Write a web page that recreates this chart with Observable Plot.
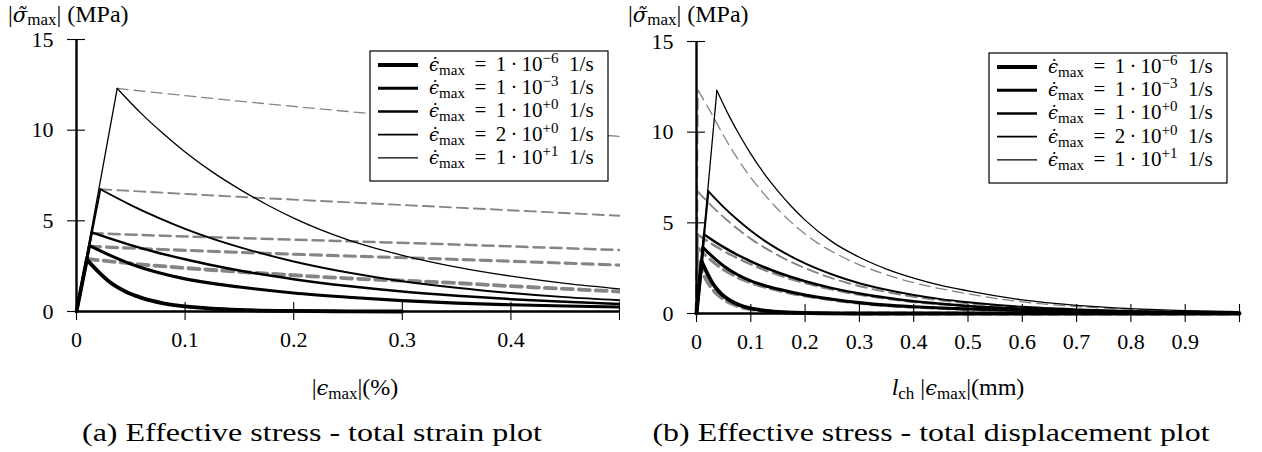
<!DOCTYPE html>
<html>
<head>
<meta charset="utf-8">
<script src="https://cdn.jsdelivr.net/npm/d3@7"></script>
<script src="https://cdn.jsdelivr.net/npm/@observablehq/plot@0.6"></script>
<style>
  body { margin: 0; background: #fff; }
  #chart { display: flex; width: 1262px; height: 452px; }
  svg { overflow: visible; }
</style>
</head>
<body>
<div id="chart"></div>
<script>
// ---------------- data ----------------
const seriesKeys = ["1e-6", "1e-3", "1e+0", "2e+0", "1e+1"];
const legendMantissa = ["1", "1", "1", "2", "1"];
const legendExponent = ["\u22126", "\u22123", "+0", "+0", "+1"];
const yTicks = [0, 5, 10, 15];
const xTicksL = [0, 0.1, 0.2, 0.3, 0.4, 0.5];
const xTicksR = [0, 0.1, 0.2, 0.3, 0.4, 0.5, 0.6, 0.7, 0.8, 0.9, 1.0];

// solid curves (same in both panels): [x, |sigma|]
const solid1e6 = [[0,0],[0.0095,2.86],[0.02,2.2],[0.03,1.65],[0.045,1.1],[0.06,0.75],[0.08,0.45],[0.1,0.28],[0.125,0.16],[0.15,0.09],[0.2,0.03],[0.25,0.01],[0.3,0],[1.0,0]];
const solid1e3 = [[0,0],[0.012,3.63],[0.03,3.12],[0.05,2.62],[0.075,2.15],[0.1,1.8],[0.125,1.55],[0.15,1.35],[0.2,1.02],[0.25,0.79],[0.3,0.6],[0.35,0.46],[0.4,0.37],[0.45,0.3],[0.5,0.25],[0.6,0.17],[0.7,0.11],[0.8,0.07],[0.9,0.05],[1.0,0.03]];
const solid1e0 = [[0,0],[0.014,4.36],[0.05,3.66],[0.075,3.24],[0.1,2.88],[0.125,2.55],[0.15,2.26],[0.2,1.78],[0.25,1.4],[0.3,1.1],[0.35,0.87],[0.4,0.68],[0.45,0.54],[0.5,0.42],[0.6,0.26],[0.7,0.16],[0.8,0.1],[0.9,0.06],[1.0,0.04]];
const solid2e0 = [[0,0],[0.022,6.74],[0.05,5.87],[0.075,5.18],[0.1,4.56],[0.125,4.02],[0.15,3.55],[0.2,2.76],[0.25,2.15],[0.3,1.67],[0.35,1.31],[0.4,1.02],[0.45,0.79],[0.5,0.62],[0.6,0.37],[0.7,0.23],[0.8,0.14],[0.9,0.08],[1.0,0.05]];
const solid1e1 = [[0,0],[0.0375,12.3],[0.06,10.9],[0.08,9.8],[0.1,8.8],[0.125,7.7],[0.15,6.75],[0.175,5.9],[0.2,5.15],[0.25,3.95],[0.3,3.1],[0.35,2.45],[0.4,1.95],[0.45,1.55],[0.5,1.25],[0.6,0.75],[0.7,0.45],[0.8,0.27],[0.9,0.16],[1.0,0.1]];

// dashed curves, left panel (strain)
const dashL1e6 = [[0.0095,2.9],[0.05,2.65],[0.1,2.4],[0.16,2.15],[0.2,2.0],[0.25,1.83],[0.3,1.7],[0.336,1.61],[0.4,1.4],[0.45,1.25],[0.5,1.1]];
const dashL1e3 = [[0.012,3.59],[0.08,3.42],[0.151,3.26],[0.24,3.08],[0.336,2.9],[0.42,2.73],[0.5,2.56]];
const dashL1e0 = [[0.014,4.32],[0.08,4.18],[0.151,4.05],[0.24,3.89],[0.336,3.72],[0.42,3.55],[0.5,3.39]];
const dashL2e0 = [[0.022,6.74],[0.08,6.55],[0.151,6.32],[0.24,6.05],[0.336,5.77],[0.42,5.52],[0.5,5.28]];
const dashL1e1 = [[0.0375,12.3],[0.15,11.6],[0.264,10.95],[0.38,10.3],[0.5,9.65]];

// dashed curves, right panel (displacement)
const dashR1e6 = [[0,0],[0.002,2.9],[0.012,2.2],[0.022,1.65],[0.037,1.1],[0.052,0.75],[0.072,0.45],[0.092,0.28],[0.117,0.16],[0.142,0.09],[0.192,0.03],[0.242,0.01],[0.3,0],[1.0,0]];
const dashR1e3 = [[0,0],[0.002,3.63],[0.02,3.12],[0.04,2.62],[0.065,2.15],[0.09,1.8],[0.115,1.55],[0.14,1.35],[0.19,1.02],[0.24,0.79],[0.29,0.6],[0.34,0.46],[0.39,0.37],[0.44,0.3],[0.49,0.25],[0.59,0.17],[0.69,0.11],[0.79,0.07],[0.89,0.05],[0.99,0.03],[1.0,0.03]];
const dashR1e0 = [[0,0],[0.002,4.36],[0.038,3.66],[0.063,3.24],[0.088,2.88],[0.113,2.55],[0.138,2.26],[0.188,1.78],[0.238,1.4],[0.288,1.1],[0.338,0.87],[0.388,0.68],[0.438,0.54],[0.488,0.42],[0.588,0.26],[0.688,0.16],[0.788,0.1],[0.888,0.06],[0.988,0.04],[1.0,0.04]];
const dashR2e0 = [[0,0],[0.002,6.74],[0.03,5.87],[0.055,5.18],[0.08,4.56],[0.105,4.02],[0.13,3.55],[0.18,2.76],[0.23,2.15],[0.28,1.67],[0.33,1.31],[0.38,1.02],[0.43,0.79],[0.48,0.62],[0.58,0.37],[0.68,0.23],[0.78,0.14],[0.88,0.08],[0.98,0.05],[1.0,0.05]];
const dashR1e1 = [[0,0],[0.003,12.3],[0.03,10.9],[0.05,9.8],[0.07,8.8],[0.095,7.7],[0.12,6.75],[0.145,5.9],[0.17,5.15],[0.22,3.95],[0.27,3.1],[0.32,2.45],[0.37,1.95],[0.42,1.55],[0.47,1.25],[0.57,0.75],[0.67,0.45],[0.77,0.27],[0.87,0.16],[0.97,0.1],[1.0,0.09]];

const solidAll = [solid1e6, solid1e3, solid1e0, solid2e0, solid1e1];
const dashLAll = [dashL1e6, dashL1e3, dashL1e0, dashL2e0, dashL1e1];
const dashRAll = [dashR1e6, dashR1e3, dashR1e0, dashR2e0, dashR1e1];

// ---------------- style ----------------
const widths = [3.8, 3.1, 2.5, 1.9, 1.3];
const gray = "#858585";
const dash = "11,6";
const FONT = "'Liberation Serif', 'DejaVu Serif', serif";

const toRows = arr => arr.map(([x, y]) => ({x, y}));

function panelMarks(xmax, xTicks, dashed, dashedHasRise) {
  const marks = [];
  dashed.forEach((arr, i) => {
    const opts = {x: "x", y: "y", stroke: gray, strokeWidth: widths[i], strokeDasharray: dash};
    if (dashedHasRise) {
      marks.push(Plot.line(toRows(arr.slice(0, 2)), opts));
      marks.push(Plot.line(toRows(arr.slice(1)), {...opts, curve: "monotone-x"}));
    } else {
      marks.push(Plot.line(toRows(arr), {...opts, curve: "monotone-x"}));
    }
  });
  solidAll.forEach((arr, i) => {
    const rows = toRows(arr).filter(d => d.x <= xmax + 1e-9);
    const opts = {x: "x", y: "y", stroke: "black", strokeWidth: widths[i]};
    marks.push(Plot.line(rows.slice(0, 2), opts));
    marks.push(Plot.line(rows.slice(1), {...opts, curve: "monotone-x"}));
  });
  marks.push(Plot.ruleX([0], {y1: 0, y2: 15, stroke: "black", strokeWidth: 2.4}));
  marks.push(Plot.ruleY([0], {x1: 0, x2: xmax, stroke: "black", strokeWidth: 2.4}));
  marks.push(Plot.axisY({ticks: yTicks, tickSize: 18, dx: 9, tickPadding: 14, label: null,
    strokeWidth: 1.1, fontSize: 22}));
  marks.push(Plot.axisX({ticks: xTicks, tickSize: 18, dy: -9, tickPadding: 11, label: null,
    strokeWidth: 1.1, fontSize: 22,
    tickFormat: d => (Math.abs(d - xmax) < 1e-9 ? "" : d3.format("~g")(d))}));
  return marks;
}

function makePlot(cfg) {
  return Plot.plot({
    width: cfg.width, height: 452,
    marginLeft: cfg.ml, marginRight: cfg.mr, marginTop: cfg.mt, marginBottom: cfg.mb,
    x: {domain: [0, cfg.xmax]},
    y: {domain: [0, 15]},
    style: {fontFamily: FONT, fontSize: "22px", color: "black", background: "white", overflow: "visible"},
    marks: panelMarks(cfg.xmax, cfg.xTicks, cfg.dashed, cfg.dashedHasRise)
  });
}

function addLegend(svg, bx, by) {
  const g = d3.select(svg).append("g").attr("font-family", FONT).attr("text-anchor", "start");
  g.append("rect").attr("x", bx).attr("y", by).attr("width", 238).attr("height", 130)
    .attr("fill", "white").attr("stroke", "black").attr("stroke-width", 1.2);
  seriesKeys.forEach((k, i) => {
    const yy = by + 14 + i * 23.2;
    g.append("line").attr("x1", bx + 8).attr("x2", bx + 48).attr("y1", yy).attr("y2", yy)
      .attr("stroke", "black").attr("stroke-width", widths[i]);
    const t = g.append("text").attr("x", bx + 59).attr("y", yy + 6).attr("font-size", 21)
      .attr("text-anchor", "start");
    t.append("tspan").attr("font-style", "italic").attr("font-family", "'DejaVu Serif'")
      .attr("font-size", 18).text("\u03F5\u0307");
    t.append("tspan").attr("font-size", 15).attr("dy", 4).text("max");
    t.append("tspan").attr("dy", -4).text(" \u2009=\u2009 " + legendMantissa[i] + "\u2009\u00B7\u200910");
    t.append("tspan").attr("font-size", 15).attr("dy", -8).text(legendExponent[i]);
    t.append("tspan").attr("dy", 8).text("\u2002" + "1/s");
  });
}

function addYLabel(svg, x) {
  const t = d3.select(svg).append("text").attr("x", x).attr("y", 22)
    .attr("font-family", FONT).attr("font-size", 24).attr("text-anchor", "start");
  t.append("tspan").text("|");
  t.append("tspan").attr("font-style", "italic").attr("font-family", "'DejaVu Serif'")
    .attr("font-size", 21).text("\u03C3\u0303");
  t.append("tspan").attr("font-size", 17).attr("dy", 3).text("max");
  t.append("tspan").attr("dy", -3).text("| (MPa)");
}

function addXLabel(svg, cx, withL) {
  const t = d3.select(svg).append("text").attr("x", cx).attr("y", 395)
    .attr("text-anchor", "middle").attr("font-family", FONT).attr("font-size", 24);
  if (withL) {
    t.append("tspan").attr("font-style", "italic").text("l");
    t.append("tspan").attr("font-size", 17).attr("dy", 4).text("ch");
    t.append("tspan").attr("dy", -4).text(" |");
  } else {
    t.append("tspan").text("|");
  }
  t.append("tspan").attr("font-style", "italic").attr("font-family", "'DejaVu Serif'")
    .attr("font-size", 21).text("\u03F5");
  t.append("tspan").attr("font-size", 17).attr("dy", 4).text("max");
  t.append("tspan").attr("dy", -4).text(withL ? "|(mm)" : "|(%)");
}

function addCaption(svg, cx, txt, len) {
  d3.select(svg).append("text").attr("x", cx - len / 2).attr("y", 441)
    .attr("text-anchor", "start").attr("font-family", FONT).attr("font-size", 26)
    .attr("textLength", len).attr("lengthAdjust", "spacingAndGlyphs").text(txt);
}

const left = makePlot({width: 620, ml: 76, mr: 1, mt: 39, mb: 141, xmax: 0.5, xTicks: xTicksL,
  dashed: dashLAll, dashedHasRise: false});
const right = makePlot({width: 642, ml: 76, mr: 23, mt: 41, mb: 139, xmax: 1.0, xTicks: xTicksR,
  dashed: dashRAll, dashedHasRise: true});

addLegend(left, 370, 51);
addLegend(right, 369, 53);
addYLabel(left, 8);
addYLabel(right, 8);
addXLabel(left, 355, false);
addXLabel(right, 338, true);
addCaption(left, 312, "(a) Effective stress - total strain plot", 460);
addCaption(right, 311, "(b) Effective stress - total displacement plot", 557);

document.getElementById("chart").append(left, right);
</script>
</body>
</html>
